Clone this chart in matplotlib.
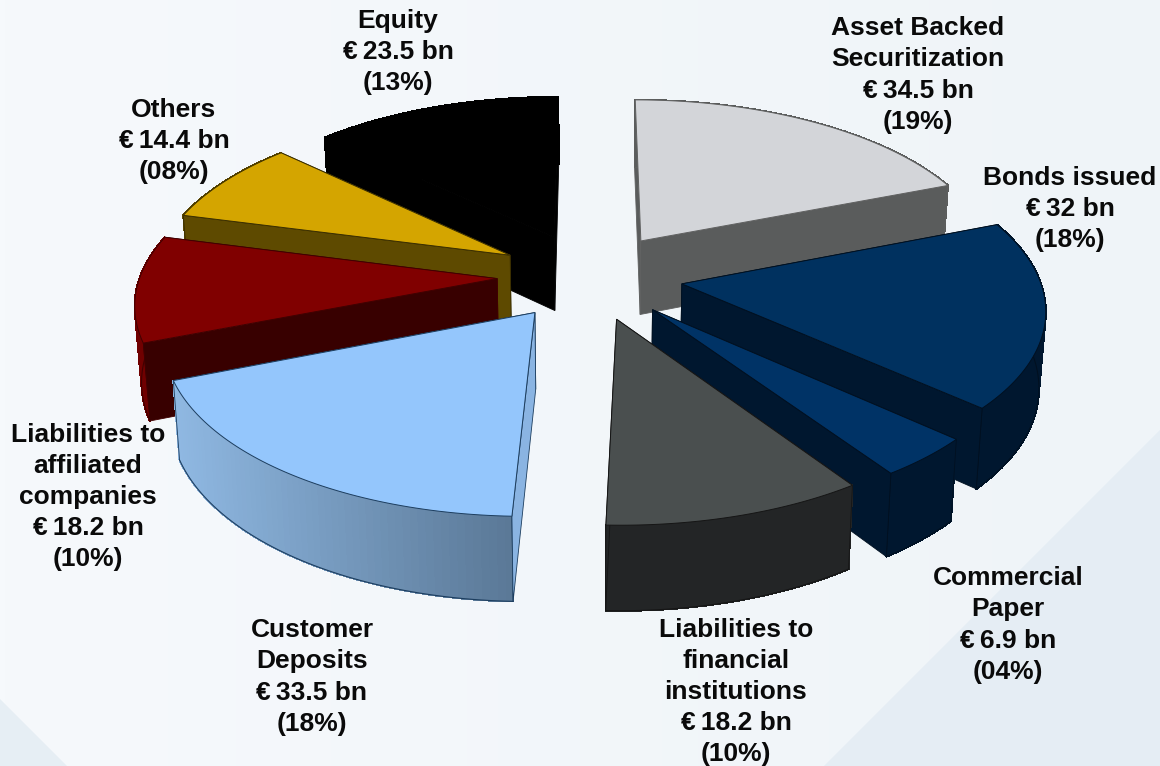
import matplotlib
matplotlib.use('Agg')
import matplotlib.pyplot as pyplot
import matplotlib.patches as mpatches
from matplotlib.colors import to_rgb
import numpy as np

#######################################################################################################
### DATA ###
names = ["Asset Backed\nSecuritization", "Bonds issued", "Commercial\nPaper",
         "Liabilities to\nfinancial\ninstitutions", "Customer\nDeposits",
         "Liabilities to\naffiliated\ncompanies", "Others", "Equity"]
amounts = [34.5, 32, 6.9, 18.2, 33.5, 18.2, 14.4, 23.5]
amount_labels = ["34.5", "32", "6.9", "18.2", "33.5", "18.2", "14.4", "23.5"]
shares = ["19%", "18%", "04%", "10%", "18%", "10%", "08%", "13%"]

### STYLE ###
top_colors = ['#d3d5d9', '#00315f', '#003366', '#4a4f4f', '#94c6fc', '#800000', '#d4a500', '#000000']
wall_colors = ['#5a5c5c', '#00172f', '#00172f', '#232526', '#8ab4e2', '#380000', '#5e4a00', '#000000']
arc_left = ['#5a5c5c', '#00172f', '#00172f', '#232526', '#8fb8e2', '#700000', '#5e4a00', '#000000']
arc_right = ['#5a5c5c', '#00172f', '#00172f', '#232526', '#5a7896', '#700000', '#5e4a00', '#000000']
edge_colors = ['#5f6060', '#001020', '#001020', '#151515', '#1c3d5e', '#400000', '#3a2e00', '#000000']
draw_order = [7, 0, 6, 1, 5, 2, 3, 4]
label_pos = [(918, 75), (1070, 209), (1008, 625), (736, 692), (312, 677), (88, 497), (174, 141), (398, 52)]

# projection of the pie plane to pixels
cx, cy = 590, 276
rx, ry = 357, 167.5
persp = 0.128
explode = 0.26
thick = 75
base_scale = 0.985

pyplot.rcParams['font.family'] = ['Liberation Sans', 'DejaVu Sans']


def project(x, y, base=False):
    w = 1 + persp * y
    sx = rx * x / w
    sy = -ry * y / w
    if base:
        return cx + base_scale * sx, cy + base_scale * sy + thick / w
    return cx + sx, cy + sy


def mix(c1, c2, t):
    a, b = np.array(to_rgb(c1)), np.array(to_rgb(c2))
    return tuple(a + (b - a) * t)


#######################################################################################################
fig = pyplot.figure(figsize=(11.6, 7.66), dpi=100)
ax = fig.add_axes([0, 0, 1, 1])
ax.set_xlim(0, 1160)
ax.set_ylim(766, 0)
ax.set_axis_off()

# background
ramp = np.linspace(0, 1, 256)[None, :, None]
bg = np.array(to_rgb('#f6f9fc'))[None, None, :] * (1 - ramp) + np.array(to_rgb('#eff4f8'))[None, None, :] * ramp
ax.imshow(bg, extent=(0, 1160, 766, 0), aspect='auto', zorder=0)
ax.add_patch(mpatches.Polygon([(1160, 430), (1160, 766), (824, 766)], facecolor='#e5edf4', edgecolor='none', zorder=1))
ax.add_patch(mpatches.Polygon([(0, 699), (67, 766), (0, 766)], facecolor='#e6eef4', edgecolor='none', zorder=1))

# slices
fractions = np.array(amounts) / np.sum(amounts)
edges = np.concatenate([[0], np.cumsum(fractions)]) * 2 * np.pi

z = 2
for i in draw_order:
    a0, a1 = edges[i], edges[i + 1]
    mid = (a0 + a1) / 2
    ox, oy = explode * np.sin(mid), explode * np.cos(mid)
    theta = np.linspace(a0, a1, 61)
    xs = ox + np.sin(theta)
    ys = oy + np.cos(theta)

    top = [project(x, y) for x, y in zip(xs, ys)]
    bot = [project(x, y, True) for x, y in zip(xs, ys)]
    apex_t = project(ox, oy)
    apex_b = project(ox, oy, True)

    wall_a = [apex_t, top[0], bot[0], apex_b]
    wall_b = [apex_t, top[-1], bot[-1], apex_b]
    # rear wall first
    if np.cos(a0) > np.cos(a1):
        walls = [wall_a, wall_b]
    else:
        walls = [wall_b, wall_a]

    ax.add_patch(mpatches.Polygon(walls[0], facecolor=wall_colors[i], edgecolor=edge_colors[i], lw=0.6, zorder=z))
    z += 1

    # outer wall, shaded from left to right on screen
    order = np.argsort([p[0] for p in top])
    xmin, xmax = top[order[0]][0], top[order[-1]][0]
    for k in range(len(top) - 1):
        t = ((top[k][0] + top[k + 1][0]) / 2 - xmin) / max(xmax - xmin, 1)
        col = mix(arc_left[i], arc_right[i], t)
        ax.add_patch(mpatches.Polygon([top[k], top[k + 1], bot[k + 1], bot[k]], facecolor=col, edgecolor=col,
                                      lw=0.8, antialiased=False, zorder=z))
    bx, by = zip(*bot)
    ax.plot(bx, by, color=edge_colors[i], lw=0.8, zorder=z)
    ax.plot([bot[0][0], top[0][0]], [bot[0][1], top[0][1]], color=edge_colors[i], lw=0.6, zorder=z)
    ax.plot([bot[-1][0], top[-1][0]], [bot[-1][1], top[-1][1]], color=edge_colors[i], lw=0.6, zorder=z)
    z += 1

    ax.add_patch(mpatches.Polygon(walls[1], facecolor=wall_colors[i], edgecolor=edge_colors[i], lw=0.6, zorder=z))
    z += 1

    ax.add_patch(mpatches.Polygon([apex_t] + top, closed=True, facecolor=top_colors[i], edgecolor=edge_colors[i], lw=0.7, zorder=z))
    z += 1

# labels
for name, val, share, pos in zip(names, amount_labels, shares, label_pos):
    ax.text(pos[0], pos[1], name + "\n\u20ac\u2009" + val + " bn\n(" + share + ")", ha='center', va='center',
            fontsize=19, fontweight='bold', color='#0a0a0a', linespacing=1.38, zorder=200)

fig.savefig('out.png', dpi=100)
